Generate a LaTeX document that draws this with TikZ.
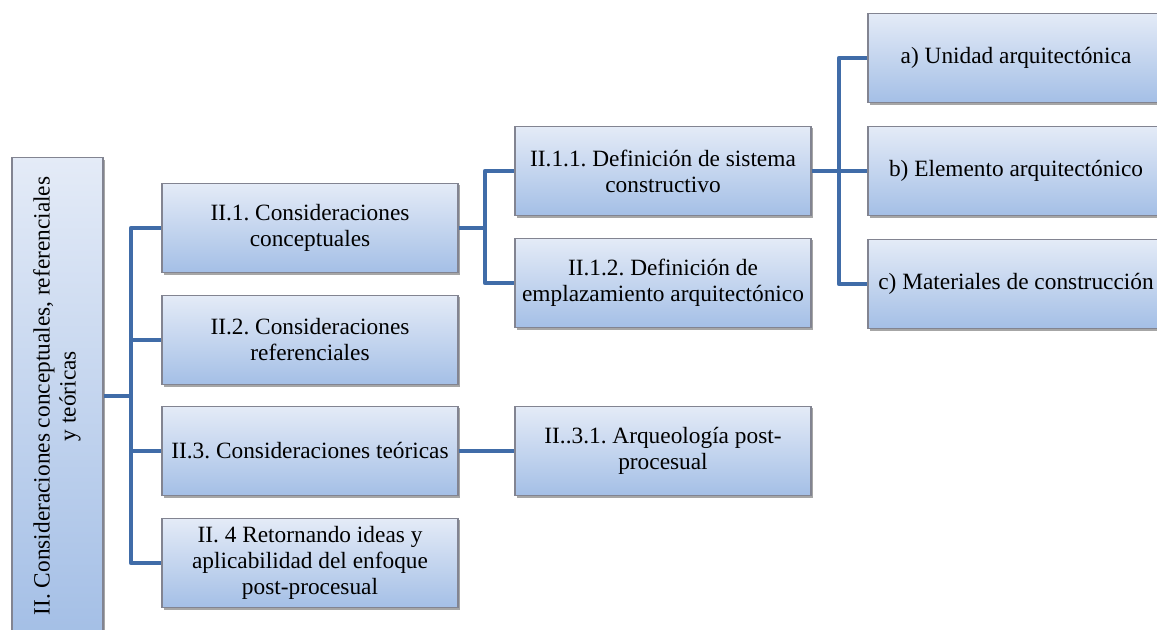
\documentclass[tikz,border=0pt]{standalone}
\usepackage{fontspec}
\setmainfont{Liberation Serif}
\usepackage{graphicx}
\usetikzlibrary{shadows}
\definecolor{boxtop}{RGB}{228,235,247}
\definecolor{boxbot}{RGB}{164,191,230}
\definecolor{boxline}{RGB}{130,132,145}
\definecolor{connblue}{RGB}{64,108,168}
\frenchspacing

\begin{document}
\begin{tikzpicture}[x=0.75pt,y=-0.75pt,
  every node/.style={font=\rmfamily\fontsize{17.5}{19.5}\selectfont},
  card/.style={draw=boxline,line width=0.8pt,top color=boxtop,bottom color=boxbot,
    drop shadow={shadow xshift=1.6pt,shadow yshift=-1.6pt,fill=black,opacity=0.35},
    minimum width=222pt,minimum height=67pt,inner sep=1pt,align=center},
  conn/.style={draw=connblue,line width=3.4pt,line join=round}]
  \useasboundingbox (0,0) rectangle (1157,630);
  \clip (0,0) rectangle (1157,630);
  % root
  \node[card,minimum width=68.25pt,minimum height=357.75pt] (root) at (57.5,396)
    {\rotatebox{90}{\begin{tabular}{@{}c@{}}II. Consideraciones conceptuales, referenciales\\ y teóricas\end{tabular}}};
  % first level
  \foreach \n/\y/\txt in {
    c1/228/{II.1. Consideraciones\\ conceptuales},
    c2/340/{II.2. Consideraciones\\ referenciales},
    c3/451/{II.3. Consideraciones teóricas},
    c4/563/{II. 4 Retornando ideas y\\ aplicabilidad del enfoque\\ post-procesual}} {
    \node[card] (\n) at (310,\y) {\txt};
  }
  % second level
  \node[card] (d11) at (663,171) {II.1.1. Definición de sistema\\ constructivo};
  \node[card] (d12) at (663,283) {II.1.2. Definición de\\ emplazamiento arquitectónico};
  \node[card] (d31) at (663,451) {II..3.1. Arqueología post-\\ procesual};
  % third level
  \node[card] (e1) at (1016,58) {a) Unidad arquitectónica};
  \node[card] (e2) at (1016,171) {b) Elemento arquitectónico};
  \node[card] (e3) at (1016,284) {c) Materiales de construcción};
  % connectors
  \coordinate (sp1) at (131,396);
  \coordinate (sp2) at (485,228);
  \coordinate (sp3) at (839,171);
  \draw[conn] (root.east) -- (sp1);
  \foreach \n in {c1,c2,c3,c4} {\draw[conn] (sp1) |- (\n.west);}
  \draw[conn] (c1.east) -- (sp2);
  \foreach \n in {d11,d12} {\draw[conn] (sp2) |- (\n.west);}
  \draw[conn] (c3.east) -- (d31.west);
  \draw[conn] (d11.east) -- (sp3);
  \foreach \n in {e1,e2,e3} {\draw[conn] (sp3) |- (\n.west);}
\end{tikzpicture}
\end{document}
